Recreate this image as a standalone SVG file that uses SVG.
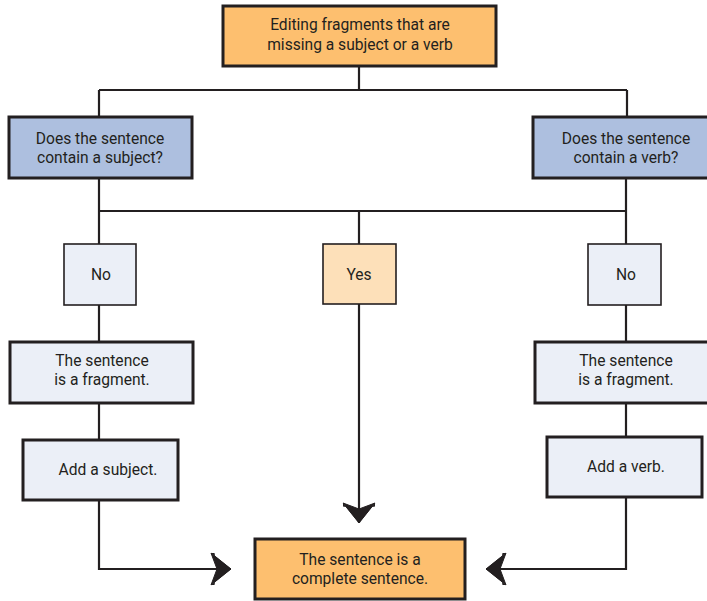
<svg xmlns="http://www.w3.org/2000/svg" width="707" height="601" viewBox="0 0 707 601">
  <style>
    text { font-family: Roboto, "Liberation Sans", sans-serif; font-size: 15.6px; fill: #231f20; text-anchor: middle; }
    .wire { fill: none; stroke: #231f20; stroke-width: 2.2; }
    .thick { stroke: #231f20; stroke-width: 3; }
    .thin { stroke: #231f20; stroke-width: 1.6; }
    .orange { fill: #fdbf6f; }
    .blue { fill: #adbfdf; }
    .pale { fill: #ebeff7; }
    .peach { fill: #fde0b9; }
  </style>
  <defs>
    <marker id="arrow" viewBox="-26 -20 28 40" markerUnits="userSpaceOnUse" markerWidth="28" markerHeight="40" refX="0" refY="0" orient="auto" overflow="visible">
      <path d="M0,0 L-20,-16 L-16.5,-16 L-13.5,0 L-16.5,16 L-20,16 Z" fill="#231f20"/>
      <path d="M0,0 L-20,-16 L-14,0 L-20,16 Z" fill="#231f20" stroke="#231f20" stroke-width="1" stroke-linejoin="miter"/>
    </marker>
  </defs>

  <!-- connectors -->
  <g id="connectors">
    <path class="wire" d="M359,66 V90 M99,90 H627 M99,90 V117 M627,90 V117"/>
    <path class="wire" d="M99,178 V244 M99,211 H626 M626,178 V244 M359,211 V244"/>
    <path class="wire" d="M99,305 V342 M99,403 V439"/>
    <path class="wire" d="M626,305 V342 M626,403 V436"/>
    <path class="wire" d="M359,304 V523" marker-end="url(#arrow)"/>
    <path class="wire" d="M99,500 V569 H231" marker-end="url(#arrow)"/>
    <path class="wire" d="M626,497 V569 H486" marker-end="url(#arrow)"/>
  </g>

  <g id="start">
    <rect class="orange thick" x="223" y="6" width="273" height="60"/>
    <text x="360" y="30">Editing fragments that are</text>
    <text x="360" y="50">missing a subject or a verb</text>
  </g>

  <g id="ask-subject">
    <rect class="blue thick" x="9" y="117" width="183" height="61"/>
    <text x="100" y="144">Does the sentence</text>
    <text x="100" y="163">contain a subject?</text>
  </g>

  <g id="ask-verb">
    <rect class="blue thick" x="533" y="117" width="180" height="61"/>
    <text x="626" y="144">Does the sentence</text>
    <text x="626" y="163">contain a verb?</text>
  </g>

  <g id="no-subject">
    <rect class="pale thin" x="64" y="244" width="72" height="61"/>
    <text x="101" y="280">No</text>
  </g>

  <g id="yes">
    <rect class="peach thin" x="323" y="244" width="73" height="60"/>
    <text x="359" y="280">Yes</text>
  </g>

  <g id="no-verb">
    <rect class="pale thin" x="588" y="244" width="73" height="61"/>
    <text x="626" y="280">No</text>
  </g>

  <g id="fragment-left">
    <rect class="pale thick" x="10" y="342" width="183" height="61"/>
    <text x="102" y="366">The sentence</text>
    <text x="102" y="385">is a fragment.</text>
  </g>

  <g id="fragment-right">
    <rect class="pale thick" x="535" y="342" width="180" height="61"/>
    <text x="626" y="366">The sentence</text>
    <text x="626" y="385">is a fragment.</text>
  </g>

  <g id="add-subject">
    <rect class="pale thick" x="23" y="440" width="155" height="60"/>
    <text x="108" y="475">Add a subject.</text>
  </g>

  <g id="add-verb">
    <rect class="pale thick" x="547" y="437" width="155" height="60"/>
    <text x="626" y="472">Add a verb.</text>
  </g>

  <g id="complete">
    <rect class="orange thick" x="255" y="539" width="210" height="60"/>
    <text x="360" y="565">The sentence is a</text>
    <text x="360" y="584">complete sentence.</text>
  </g>
</svg>
